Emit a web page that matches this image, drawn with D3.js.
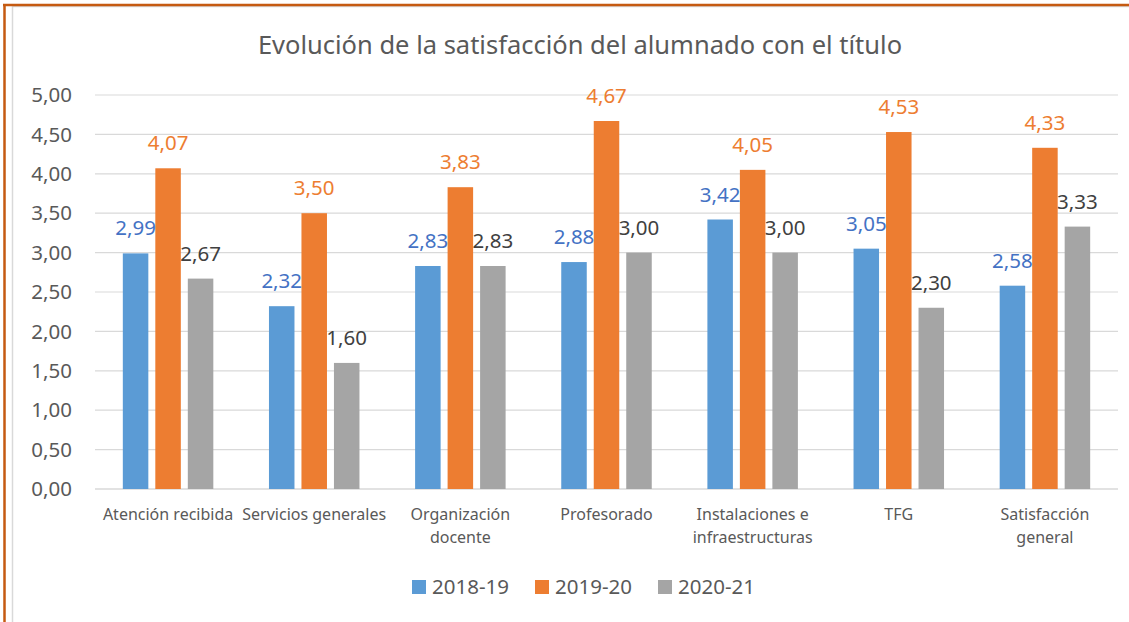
<!DOCTYPE html>
<html>
<head>
<meta charset="utf-8">
<script src="https://cdn.jsdelivr.net/npm/d3@7"></script>
<style>
    body { margin: 0; background: #fff; }
    svg { display: block; font-family: "Noto Sans", "Open Sans", sans-serif; }
</style>
</head>
<body>
<div id="chart"></div>
<script>
// categories (split into lines the way they wrap in the chart)
let categories = ["Atención recibida", "Servicios generales", "Organización docente", "Profesorado",
    "Instalaciones e infraestructuras", "TFG", "Satisfacción general"];
let categoryLines = [["Atención recibida"], ["Servicios generales"], ["Organización", "docente"], ["Profesorado"],
    ["Instalaciones e", "infraestructuras"], ["TFG"], ["Satisfacción", "general"]];

// series
let seriesNames = ["2018-19", "2019-20", "2020-21"];
let values2018 = [2.99, 2.32, 2.83, 2.88, 3.42, 3.05, 2.58];
let values2019 = [4.07, 3.50, 3.83, 4.67, 4.05, 4.53, 4.33];
let values2020 = [2.67, 1.60, 2.83, 3.00, 3.00, 2.30, 3.33];

let yTicks = [0, 0.5, 1, 1.5, 2, 2.5, 3, 3.5, 4, 4.5, 5];

let barColors = ["#5B9BD5", "#ED7D31", "#A5A5A5"];
let labelColors = ["#4472C4", "#ED7D31", "#404040"];

let W = 1129, H = 622;
let margin = {top: 95, left: 95, right: 11, bottom: 133};

let svg = d3.select("#chart").append("svg")
    .attr("width", W)
    .attr("height", H);

// chart frame
svg.append("rect")
    .attr("x", 12.5).attr("y", 6.5)
    .attr("width", W).attr("height", H)
    .attr("fill", "#fff")
    .attr("stroke", "#D9D9D9")
    .attr("stroke-width", 1.5);

svg.append("line")
    .attr("x1", 4.5).attr("x2", 4.5).attr("y1", 4).attr("y2", H)
    .attr("stroke", "#C55A11").attr("stroke-width", 2.5);
svg.append("line")
    .attr("x1", 3).attr("x2", W).attr("y1", 5).attr("y2", 5)
    .attr("stroke", "#C55A11").attr("stroke-width", 2.5);

// title
svg.append("text")
    .attr("x", 580)
    .attr("y", 54)
    .attr("text-anchor", "middle")
    .attr("fill", "#595959")
    .style("font-size", "25.5px")
    .text("Evolución de la satisfacción del alumnado con el título");

let x0 = d3.scaleBand()
    .domain(categories)
    .range([margin.left, W - margin.right]);

let x1 = d3.scaleBand()
    .domain(seriesNames)
    .range([0, 90.5])
    .paddingInner(0.215);

let y = d3.scaleLinear()
    .domain([0, 5])
    .range([H - margin.bottom, margin.top]);

// gridlines
svg.append("g")
    .selectAll("line")
    .data(yTicks)
    .join("line")
    .attr("x1", margin.left)
    .attr("x2", W - margin.right)
    .attr("y1", d => y(d))
    .attr("y2", d => y(d))
    .attr("stroke", "#D9D9D9")
    .attr("stroke-width", d => d === 0 ? 1.5 : 1.2);

// y axis labels
let fmt = d => d3.format(".2f")(d).replace(".", ",");
svg.append("g")
    .selectAll("text")
    .data(yTicks)
    .join("text")
    .attr("x", 72)
    .attr("y", d => y(d))
    .attr("dy", "0.35em")
    .attr("text-anchor", "end")
    .attr("fill", "#595959")
    .style("font-size", "20.5px")
    .text(fmt);

// bars
let allSeries = [values2018, values2019, values2020];
let groups = svg.append("g")
    .selectAll("g")
    .data(categories)
    .join("g")
    .attr("transform", d => `translate(${x0(d) + (x0.bandwidth() - 90.5) / 2},0)`);

groups.selectAll("rect")
    .data((d, i) => seriesNames.map((s, j) => ({s: s, j: j, v: allSeries[j][i]})))
    .join("rect")
    .attr("x", d => x1(d.s))
    .attr("y", d => y(d.v))
    .attr("width", x1.bandwidth())
    .attr("height", d => y(0) - y(d.v))
    .attr("fill", d => barColors[d.j]);

groups.selectAll("text")
    .data((d, i) => seriesNames.map((s, j) => ({s: s, j: j, v: allSeries[j][i]})))
    .join("text")
    .attr("x", d => x1(d.s) + x1.bandwidth() / 2)
    .attr("y", d => y(d.v) - 18)
    .attr("text-anchor", "middle")
    .attr("fill", d => labelColors[d.j])
    .style("font-size", "20.5px")
    .text(d => fmt(d.v));

// category labels
let catLabels = svg.append("g")
    .selectAll("text")
    .data(categories)
    .join("text")
    .attr("text-anchor", "middle")
    .attr("fill", "#595959")
    .style("font-size", "16px");

catLabels.selectAll("tspan")
    .data((d, i) => categoryLines[i].map(line => ({line: line, cat: d})))
    .join("tspan")
    .attr("x", d => x0(d.cat) + x0.bandwidth() / 2)
    .attr("y", (d, k) => 520 + k * 23)
    .text(d => d.line);

// legend
let legendX = [412, 535, 658];
let legend = svg.append("g")
    .selectAll("g")
    .data(seriesNames)
    .join("g")
    .attr("transform", (d, i) => `translate(${legendX[i]},587)`);

legend.append("rect")
    .attr("x", 0).attr("y", -7)
    .attr("width", 14).attr("height", 14)
    .attr("fill", (d, i) => barColors[i]);

legend.append("text")
    .attr("x", 20)
    .attr("dy", "0.35em")
    .attr("fill", "#595959")
    .style("font-size", "20.5px")
    .text(d => d);
</script>
</body>
</html>
